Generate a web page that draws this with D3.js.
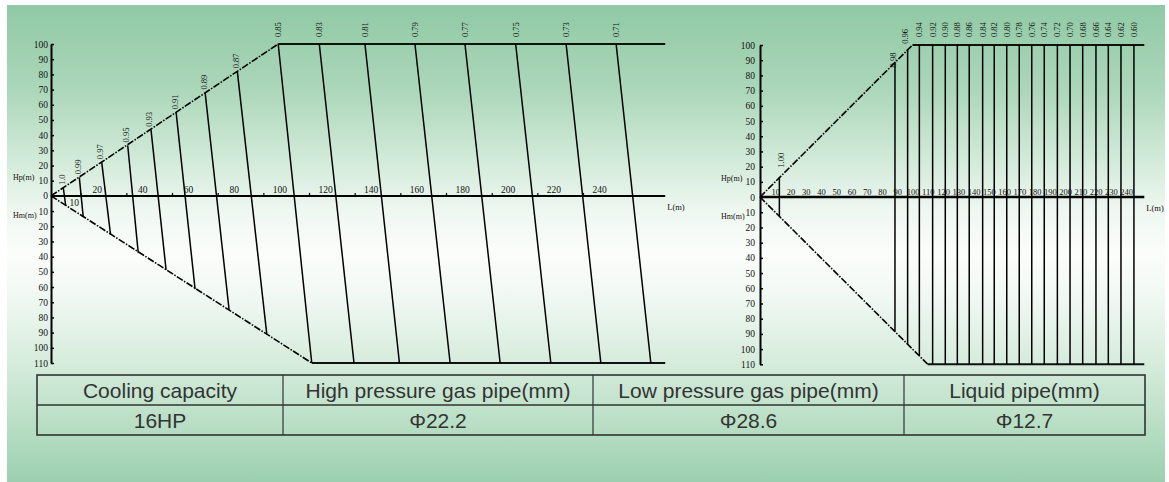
<!DOCTYPE html>
<html><head><meta charset="utf-8">
<script src="https://cdn.jsdelivr.net/npm/d3@7"></script>
<style>body{margin:0;background:#fff}svg{display:block}</style>
</head><body><svg id="c" width="1169" height="482"></svg>
<script>
// ---------------- data ----------------
// Left chart (high pressure gas pipe correction)
const leftCoef = ["1.0","0.99","0.97","0.95","0.93","0.91","0.89","0.87","0.85","0.83","0.81","0.79","0.77","0.75","0.73","0.71"];
const leftTopL = [5.4,12.4,22.2,33.6,43.8,54.8,67.5,81.6,99.5,117.5,137.5,159.4,181.3,203.5,225.6,247.5];
const leftTopH = [5.2,12.2,22.2,33.2,43.5,55,68,82,100,100,100,100,100,100,100,100];
const leftBotL = [6.4,14.1,26.1,38.2,50.4,63.1,78,94.5,114.2,132.7,152.6,174.8,196.7,218.9,240.8,262.7];
const leftBotH = [-6,-13.6,-25.7,-37.3,-48.7,-61.4,-75,-91,-110,-110,-110,-110,-110,-110,-110,-110];
const leftUpperL = [0,99.5,269], leftUpperH = [0,100,100];
const leftLowerL = [0,114.2,269], leftLowerH = [0,-110,-110];
const leftXTicks = [20,40,60,80,100,120,140,160,180,200,220,240];
const leftXMinor = [13,33,53,73,93,113,133,153,173,193,213,233];
const leftXBelow = [10];

// Right chart
const rightCoef = ["1.00","0.98","0.96","0.94","0.92","0.90","0.88","0.86","0.84","0.82","0.80","0.78","0.76","0.74","0.72","0.70","0.68","0.66","0.64","0.62","0.60"];
const rightL = [12.7,88.5,96.8,104.5,113.2,121.5,129.4,137.2,146,153.6,161.8,170,178.2,186.4,195,203.3,211.6,220.3,228.4,236.7,245.2];
const rightTopH = [12.7,88.5,96.8,100,100,100,100,100,100,100,100,100,100,100,100,100,100,100,100,100,100];
const rightBotH = [-12.7,-88.5,-96.8,-104.5,-110,-110,-110,-110,-110,-110,-110,-110,-110,-110,-110,-110,-110,-110,-110,-110,-110];
const rightUpperL = [0,100,252], rightUpperH = [0,100,100];
const rightLowerL = [0,110,252], rightLowerH = [0,-110,-110];
const rightXTicks = [10,20,30,40,50,60,70,80,90,100,110,120,130,140,150,160,170,180,190,200,210,220,230,240];

const yTicksUp = [0,10,20,30,40,50,60,70,80,90,100];
const yTicksDown = [-10,-20,-30,-40,-50,-60,-70,-80,-90,-100,-110];

// Table
const tableHeaders = ["Cooling capacity","High pressure gas pipe(mm)","Low pressure gas pipe(mm)","Liquid pipe(mm)"];
const tableValues = ["16HP","Φ22.2","Φ28.6","Φ12.7"];

// ---------------- drawing ----------------
const svg = d3.select("#c");
const SERIF = "'Liberation Serif','DejaVu Serif',serif";
const SANS = "'Liberation Sans',Arial,sans-serif";

const defs = svg.append("defs");
const g = defs.append("linearGradient").attr("id","bg").attr("x1",0).attr("y1",0).attr("x2",0).attr("y2",1);
[[0,"#90c9a5"],[0.18,"#acd7ba"],[0.33,"#d3ebda"],[0.43,"#eef7f0"],[0.52,"#fbfdfb"],[0.6,"#f2f9f4"],[0.75,"#d6ecdc"],[0.9,"#b4dcc1"],[1,"#9ccfb0"]]
  .forEach(([o,c]) => g.append("stop").attr("offset",o).attr("stop-color",c));
svg.append("rect").attr("x",7).attr("y",5).attr("width",1158).attr("height",477).attr("fill","url(#bg)");

function drawChart(cfg) {
  const {x, y, coef, topL, topH, botL, botH, upL, upH, loL, loH} = cfg;
  const gr = svg.append("g");

  // y axis (upper and lower)
  const yAxis = d3.axisLeft(y).tickValues(yTicksUp.concat(yTicksDown))
    .tickFormat(d => Math.abs(d)).tickSizeInner(-3).tickSizeOuter(0).tickPadding(cfg.yPad);
  const ya = gr.append("g").attr("transform", `translate(${x(0)},0)`).call(yAxis);
  ya.select(".domain").attr("stroke","#000").attr("stroke-width",2);
  ya.selectAll(".tick line").attr("stroke","#000").attr("stroke-width",1.5);
  ya.selectAll("text").attr("font-family",SERIF).attr("font-size",9.5).attr("fill","#111");

  // axis titles
  gr.append("text").attr("x",cfg.titleX).attr("y",y(0)-16).text("Hp(m)")
    .attr("font-family",SERIF).attr("font-size",8).attr("fill","#111");
  gr.append("text").attr("x",cfg.titleX).attr("y",y(0)+22).text("Hm(m)")
    .attr("font-family",SERIF).attr("font-size",8).attr("fill","#111");

  // x axis line
  gr.append("line").attr("x1",x(0)).attr("x2",x(upL[upL.length-1]))
    .attr("y1",y(0)).attr("y2",y(0)).attr("stroke","#000").attr("stroke-width",cfg.xAxisW);
  gr.append("text").attr("x",x(upL[upL.length-1])+2).attr("y",y(0)+14).text("L(m)")
    .attr("font-family",SERIF).attr("font-size",8.5).attr("fill","#111");

  // x tick labels above axis
  const xa = gr.append("g").attr("transform",`translate(0,${y(0)})`)
    .call(d3.axisTop(x).tickValues(cfg.xTicks).tickSize(0).tickPadding(cfg.xPad));
  xa.select(".domain").remove();
  xa.selectAll("text").attr("font-family",SERIF).attr("font-size",cfg.xFont).attr("fill","#111");
  if (cfg.xMinor) {
    const xm = gr.append("g").attr("transform",`translate(0,${y(0)})`)
      .call(d3.axisTop(x).tickValues(cfg.xMinor).tickSize(3).tickFormat(""));
    xm.select(".domain").remove();
    xm.selectAll(".tick line").attr("stroke","#000").attr("stroke-width",1.2);
  }
  if (cfg.xBelow) {
    const xb = gr.append("g").attr("transform",`translate(0,${y(0)})`)
      .call(d3.axisBottom(x).tickValues(cfg.xBelow).tickSize(0).tickPadding(3));
    xb.select(".domain").remove();
    xb.selectAll("text").attr("font-family",SERIF).attr("font-size",cfg.xFont).attr("fill","#111");
  }

  // boundaries: diagonal dash-dot, horizontal solid
  function boundary(Ls, Hs) {
    gr.append("line").attr("x1",x(Ls[0])).attr("y1",y(Hs[0])).attr("x2",x(Ls[1])).attr("y2",y(Hs[1]))
      .attr("stroke","#000").attr("stroke-width",1.6).attr("stroke-dasharray","7,1.5,1.5,1.5");
    gr.append("line").attr("x1",x(Ls[1])).attr("y1",y(Hs[1])).attr("x2",x(Ls[2])).attr("y2",y(Hs[2]))
      .attr("stroke","#111").attr("stroke-width",2);
  }
  boundary(upL, upH);
  boundary(loL, loH);

  // coefficient lines
  gr.selectAll("line.coef").data(coef).join("line").attr("class","coef")
    .attr("x1",(d,i)=>x(topL[i])).attr("y1",(d,i)=>y(topH[i]))
    .attr("x2",(d,i)=>x(botL[i])).attr("y2",(d,i)=>y(botH[i]))
    .attr("stroke","#000").attr("stroke-width",1.5);

  // labels
  gr.selectAll("text.coef").data(coef).join("text").attr("class","coef")
    .attr("transform",(d,i)=>{
      const p = cfg.labelPos(d,i);
      return `translate(${p[0]},${p[1]}) rotate(-90)`;
    })
    .attr("dy","0.35em").attr("text-anchor","start")
    .attr("font-family",SERIF).attr("font-size",8.5).attr("fill","#111")
    .text(d=>d);
}

// left chart
const xL = d3.scaleLinear().domain([0,240]).range([51,599]);
const yL = d3.scaleLinear().domain([-110,100]).range([363,44]);
drawChart({
  x:xL, y:yL, coef:leftCoef, topL:leftTopL, topH:leftTopH, botL:leftBotL, botH:leftBotH,
  upL:leftUpperL, upH:leftUpperH, loL:leftLowerL, loH:leftLowerH,
  yPad:3, titleX:13, xAxisW:2, xTicks:leftXTicks, xMinor:leftXMinor, xBelow:leftXBelow, xPad:3, xFont:9.5,
  labelPos:(d,i)=> leftTopH[i] >= 100
    ? [xL(leftTopL[i]), yL(100)-7]
    : [xL(leftTopL[i])-1.5, yL(leftTopH[i])-3]
});

// right chart
const xR = d3.scaleLinear().domain([0,240]).range([760,1126]);
const yR = d3.scaleLinear().domain([-110,100]).range([364.3,45]);
const rightNudge = {"1.00":[2,-10],"0.98":[-2,5],"0.96":[-3,-6]};
drawChart({
  x:xR, y:yR, coef:rightCoef, topL:rightL, topH:rightTopH, botL:rightL, botH:rightBotH,
  upL:rightUpperL, upH:rightUpperH, loL:rightLowerL, loH:rightLowerH,
  yPad:5, titleX:721, xAxisW:2.5, xTicks:rightXTicks, xPad:2, xFont:8.5,
  labelPos:(d,i)=> {
    const n = rightNudge[d];
    if (n) return [xR(rightL[i])+n[0], yR(rightTopH[i])+n[1]];
    return [xR(rightL[i]), yR(100)-8];
  }
});

// table
const colX = d3.scaleOrdinal().domain(d3.range(5)).range([37,283,593,904,1145]);
const rowY = [375,405,435];
const tg = svg.append("g");
tg.append("rect").attr("x",colX(0)).attr("y",rowY[0]).attr("width",colX(4)-colX(0)).attr("height",rowY[2]-rowY[0])
  .attr("fill","none").attr("stroke","#333").attr("stroke-width",1.6);
tg.append("line").attr("x1",colX(0)).attr("x2",colX(4)).attr("y1",rowY[1]).attr("y2",rowY[1]).attr("stroke","#333").attr("stroke-width",1.4);
[1,2,3].forEach(c => tg.append("line").attr("x1",colX(c)).attr("x2",colX(c)).attr("y1",rowY[0]).attr("y2",rowY[2]).attr("stroke","#333").attr("stroke-width",1.2));
[tableHeaders, tableValues].forEach((row, r) => {
  tg.selectAll(null).data(row).join("text")
    .attr("x",(d,i)=>(colX(i)+colX(i+1))/2)
    .attr("y",(rowY[r]+rowY[r+1])/2 + 7.5)
    .attr("text-anchor","middle").attr("font-family",SANS).attr("font-size",21).attr("fill","#333")
    .text(d=>d);
});
</script></body></html>
